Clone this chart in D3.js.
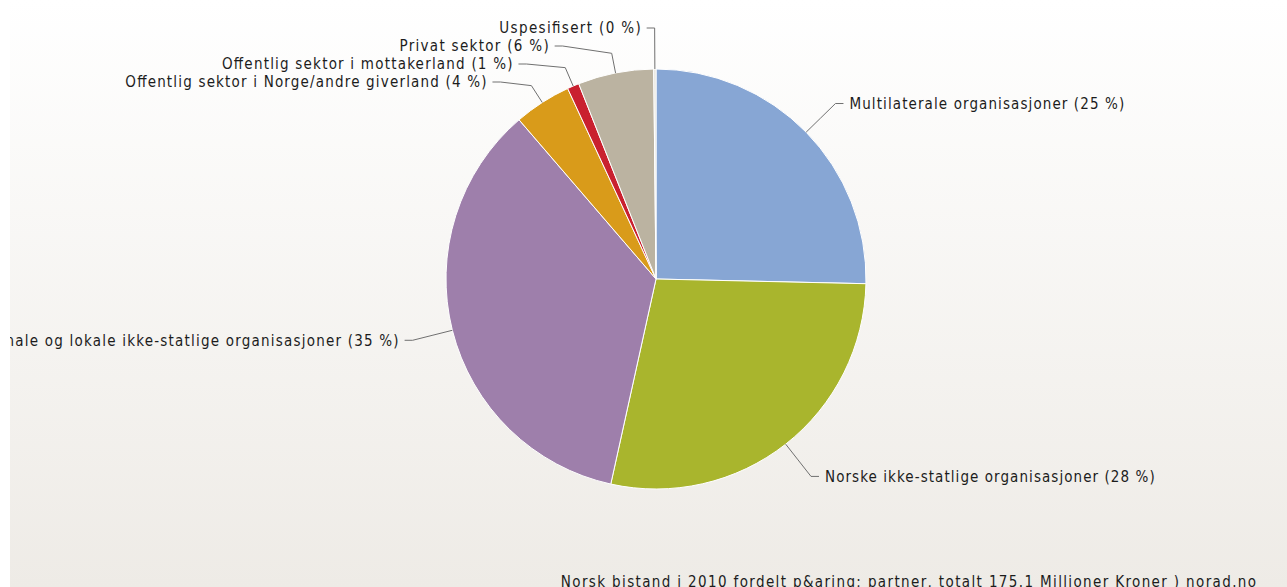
<!DOCTYPE html>
<html>
<head>
<meta charset="utf-8">
<script src="https://cdn.jsdelivr.net/npm/d3@7"></script>
<style>
  html, body { margin: 0; padding: 0; background: #ffffff; overflow: hidden; }
  svg { display: block; }
  text { font-family: "DejaVu Sans Condensed", "DejaVu Sans", Verdana, sans-serif; fill: #1c1c1c; }
</style>
</head>
<body>
<script>
// ---- data ----
const categories = [
  "Multilaterale organisasjoner",
  "Norske ikke-statlige organisasjoner",
  "Internasjonale, regionale og lokale ikke-statlige organisasjoner",
  "Offentlig sektor i Norge/andre giverland",
  "Offentlig sektor i mottakerland",
  "Privat sektor",
  "Uspesifisert"
];
const values = [44.4, 49.2, 61.7, 7.7, 1.6, 10.2, 0.3]; // millioner kroner
const colors = ["#87a6d4", "#a9b52d", "#9e7fab", "#d99b1a", "#c9202f", "#bbb3a1", "#e4e1d8"];
const caption = "Norsk bistand i 2010 fordelt p&aring; partner, totalt 175.1 Millioner Kroner ) norad.no";

// ---- layout ----
const W = 1287, H = 587;
const cx = 656, cy = 279, r = 210;
const labelR = 251;      // circle on which label anchors sit
const breakR = r + 20;   // connector break just outside pie
const lineH = 18;        // minimum spacing between stacked labels
const charW = 7.85;      // rendered width per character of labels

const svg = d3.select("body").append("svg").attr("width", W).attr("height", H);

const defs = svg.append("defs");
const grad = defs.append("linearGradient").attr("id", "bg")
  .attr("x1", 0).attr("y1", 0).attr("x2", 0).attr("y2", 1);
grad.append("stop").attr("offset", "0%").attr("stop-color", "#ffffff");
grad.append("stop").attr("offset", "100%").attr("stop-color", "#eeebe6");
defs.append("clipPath").attr("id", "panel")
  .append("rect").attr("x", 10).attr("y", 0).attr("width", W - 10).attr("height", H);

svg.append("rect").attr("x", 10).attr("y", 0).attr("width", W - 10).attr("height", H)
  .attr("fill", "url(#bg)");

const root = svg.append("g").attr("clip-path", "url(#panel)");

const total = d3.sum(values);
const data = categories.map((c, i) => ({ name: c, value: values[i], color: colors[i] }));
const pie = d3.pie().sort(null).value(d => d.value);
const arcs = pie(data);
const arc = d3.arc().innerRadius(0).outerRadius(r);

const g = root.append("g").attr("transform", `translate(${cx},${cy})`);
g.selectAll("path.slice").data(arcs).join("path")
  .attr("class", "slice")
  .attr("d", arc)
  .attr("fill", d => d.data.color)
  .attr("stroke", "#ffffff")
  .attr("stroke-width", 1)
  .attr("stroke-linejoin", "round");

// label positions
const labels = arcs.map(d => {
  const a = (d.startAngle + d.endAngle) / 2;
  const sx = Math.sin(a), sy = -Math.cos(a);
  return {
    d, a, sx, sy,
    left: sx < 0,
    y: sy * labelR,
    text: `${d.data.name} (${Math.round(d.data.value / total * 100)} %)`
  };
});
[true, false].forEach(side => {
  const grp = labels.filter(l => l.left === side).sort((p, q) => p.y - q.y);
  let prev = -Infinity;
  grp.forEach(l => {
    l.y = Math.max(l.y, prev + lineH, -labelR);
    prev = l.y;
  });
});

labels.forEach(l => {
  const dir = l.left ? -1 : 1;
  const px = dir * Math.sqrt(Math.max(0, labelR * labelR - l.y * l.y));
  const pts = [
    [px + dir * 8, l.y],
    [px, l.y],
    [l.sx * breakR, l.sy * breakR],
    [l.sx * r, l.sy * r]
  ];
  g.append("path")
    .attr("d", d3.line()(pts))
    .attr("fill", "none")
    .attr("stroke", "#707070")
    .attr("stroke-width", 1);
  g.append("text")
    .attr("x", px + dir * 14)
    .attr("y", l.y)
    .attr("dy", "0.36em")
    .attr("text-anchor", l.left ? "end" : "start")
    .attr("font-size", 15)
    .attr("textLength", l.text.length * charW)
    .attr("lengthAdjust", "spacing")
    .text(l.text);
});

root.append("text")
  .attr("x", 1256)
  .attr("y", 587)
  .attr("text-anchor", "end")
  .attr("font-size", 15)
  .attr("textLength", caption.length * 7.99)
  .attr("lengthAdjust", "spacing")
  .text(caption);
</script>
</body>
</html>
